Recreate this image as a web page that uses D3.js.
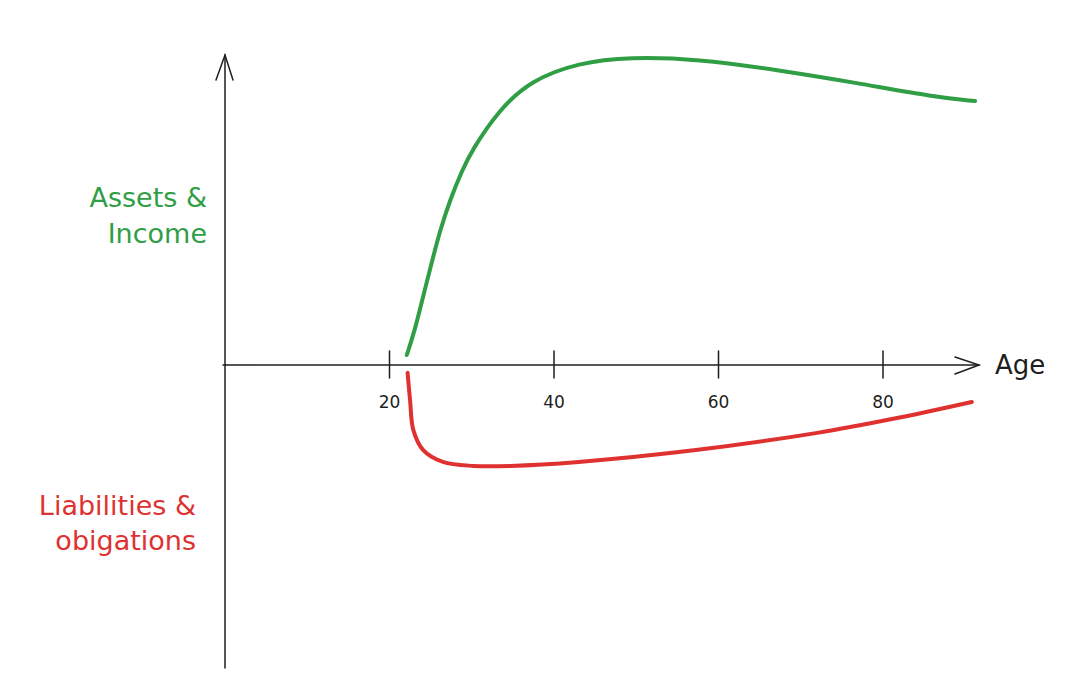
<!DOCTYPE html>
<html>
<head>
<meta charset="utf-8">
<script src="https://cdn.jsdelivr.net/npm/d3@7"></script>
<style>
  html, body { margin: 0; padding: 0; background: #fff; }
  svg text { font-family: "DejaVu Sans", sans-serif; }
</style>
</head>
<body>
<div id="chart"></div>
<script>
// ages on the x axis and the two sketched curves (arbitrary units)
const tickAges = [20, 40, 60, 80];
const assetsAge = [22.1, 23.1, 24.1, 25.2, 26.1, 27.4, 28.8, 30.0, 33.3, 37.2, 43.0, 49.2, 57.5, 67.1, 76.8, 86.4, 91.2];
const assetsValue = [3.3, 11.6, 22.8, 34.5, 44, 54.8, 64, 70.8, 84.2, 94, 99.8, 101.7, 101, 97.4, 93.1, 88.4, 87.1];
const liabAge = [22.2, 22.5, 22.9, 24.1, 26.5, 30.2, 34.7, 43.0, 57.5, 72.0, 81.7, 90.8];
const liabValue = [-2.6, -11.6, -21.5, -28.1, -32, -33.3, -33.3, -32, -28, -22.4, -17.5, -12.2];

const width = 1087, height = 695;
const ink = '#1e1e1e', green = '#2f9e44', red = '#e03131';

const svg = d3.select('#chart').append('svg')
  .attr('width', width)
  .attr('height', height);

const x = d3.scaleLinear().domain([0, 80]).range([225, 883]);
const y = d3.scaleLinear().domain([-100, 100]).range([668, 62]);

// axes drawn as sketch lines
const axisG = svg.append('g')
  .attr('stroke', ink)
  .attr('stroke-width', 1.5)
  .attr('stroke-linecap', 'round')
  .attr('fill', 'none');

const x0 = x(0), y0 = y(0);
const xEnd = 979, yTop = 55, yBottom = 668;

axisG.append('line').attr('x1', x0 - 2).attr('y1', y0).attr('x2', xEnd).attr('y2', y0);
axisG.append('path').attr('d', `M${xEnd - 24},${y0 - 8}L${xEnd},${y0}L${xEnd - 24},${y0 + 9}`);
axisG.append('line').attr('x1', x0).attr('y1', yBottom).attr('x2', x0).attr('y2', yTop);
axisG.append('path').attr('d', `M${x0 - 9},${yTop + 25}L${x0},${yTop}L${x0 + 8},${yTop + 25}`);

axisG.selectAll('.tick')
  .data(tickAges)
  .enter()
  .append('line')
  .attr('class', 'tick')
  .attr('x1', d => x(d)).attr('x2', d => x(d))
  .attr('y1', y0 - 14).attr('y2', y0 + 13);

svg.selectAll('.tick-label')
  .data(tickAges)
  .enter()
  .append('text')
  .attr('class', 'tick-label')
  .attr('x', d => x(d))
  .attr('y', y0 + 43)
  .attr('text-anchor', 'middle')
  .attr('fill', ink)
  .attr('font-size', 17)
  .text(d => d);

svg.append('text')
  .attr('x', 995).attr('y', y0 + 9)
  .attr('fill', ink)
  .attr('font-size', 26)
  .text('Age');

// curves: basis smooths the hand-read green points, catmull-rom keeps the red corner
const greenLine = d3.line()
  .x(d => x(d[0]))
  .y(d => y(d[1]))
  .curve(d3.curveBasis);

const redLine = d3.line()
  .x(d => x(d[0]))
  .y(d => y(d[1]))
  .curve(d3.curveCatmullRom.alpha(0.5));

svg.append('path')
  .datum(d3.zip(assetsAge, assetsValue))
  .attr('d', greenLine)
  .attr('fill', 'none')
  .attr('stroke', green)
  .attr('stroke-width', 4)
  .attr('stroke-linecap', 'round');

svg.append('path')
  .datum(d3.zip(liabAge, liabValue))
  .attr('d', redLine)
  .attr('fill', 'none')
  .attr('stroke', red)
  .attr('stroke-width', 4)
  .attr('stroke-linecap', 'round');

// side labels
const labels = [
  { text: 'Assets &', x: 207, y: 207, color: green },
  { text: 'Income', x: 207, y: 243, color: green },
  { text: 'Liabilities &', x: 196, y: 515, color: red },
  { text: 'obigations', x: 196, y: 550, color: red }
];
svg.selectAll('.side-label')
  .data(labels)
  .enter()
  .append('text')
  .attr('class', 'side-label')
  .attr('x', d => d.x)
  .attr('y', d => d.y)
  .attr('text-anchor', 'end')
  .attr('fill', d => d.color)
  .attr('font-size', 27)
  .text(d => d.text);
</script>
</body>
</html>
